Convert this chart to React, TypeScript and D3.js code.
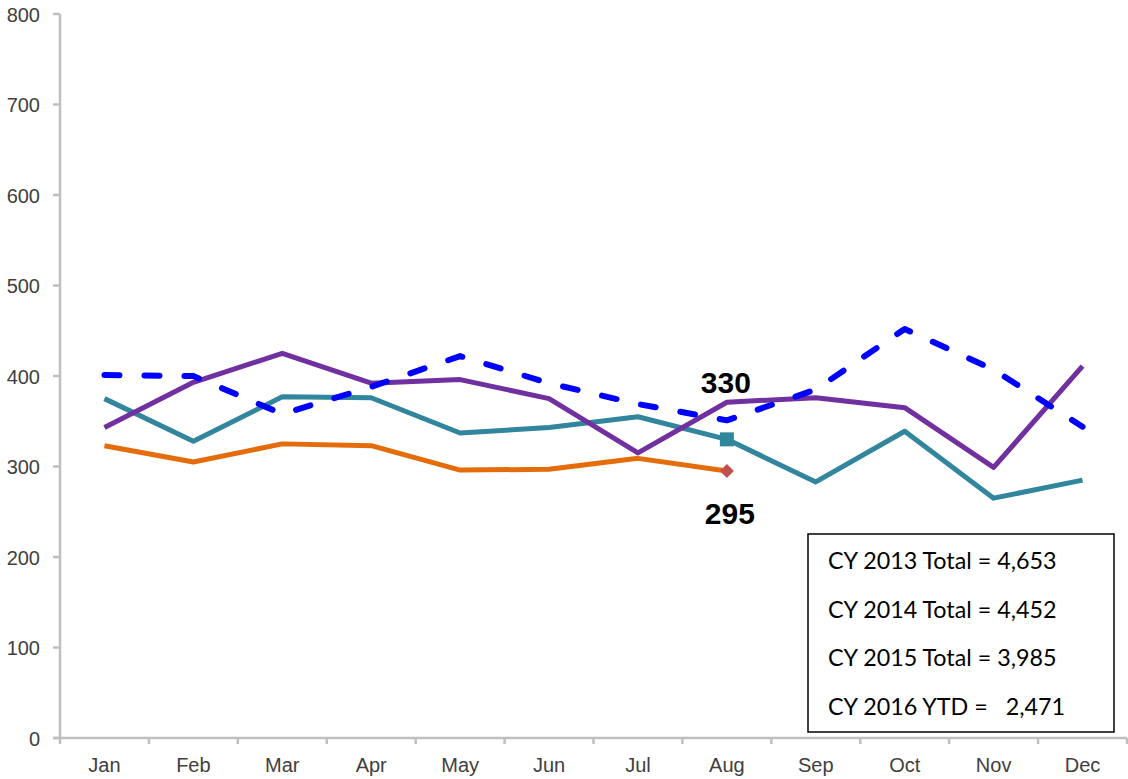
import React from "react";
import * as d3 from "d3";

const months = ["Jan", "Feb", "Mar", "Apr", "May", "Jun", "Jul", "Aug", "Sep", "Oct", "Nov", "Dec"];
const cy2013 = [401, 400, 358, 388, 422, 392, 369, 351, 385, 452, 407, 344];
const cy2014 = [343, 393, 425, 392, 396, 375, 315, 371, 376, 365, 299, 411];
const cy2015 = [375, 328, 377, 376, 337, 343, 355, 330, 283, 339, 265, 285];
const cy2016 = [323, 305, 325, 323, 296, 297, 309, 295];
const yTicks = [0, 100, 200, 300, 400, 500, 600, 700, 800];
const totals = [
  "CY 2013 Total = 4,653",
  "CY 2014 Total = 4,452",
  "CY 2015 Total = 3,985",
  "CY 2016 YTD =   2,471",
];

export default function App() {
  const W = 1128, H = 779;
  const left = 60, right = 1127, top = 14, bottom = 738;
  const x = d3.scaleBand<string>().domain(months).range([left, right]);
  const y = d3.scaleLinear().domain([0, 800]).range([bottom, top]);
  const cx = (i: number) => (x(months[i]) as number) + x.bandwidth() / 2;
  const line = d3.line<number>().x((_, i) => cx(i)).y((d) => y(d));
  const axisColor = "#BFBFBF";
  const labelFont = "'Liberation Sans', Arial, sans-serif";
  const tickBounds = months.map((m) => x(m) as number).concat([right]);
  const dx = cx(7), dy = y(cy2016[7]);

  return (
    <svg width={W} height={H} style={{ position: "absolute", left: 0, top: 0, background: "#fff" }}>
      {/* y axis */}
      <line x1={left} x2={left} y1={top} y2={bottom} stroke={axisColor} strokeWidth={2.5} />
      {yTicks.map((t) => (
        <g key={t}>
          <line x1={left - 7} x2={left} y1={y(t)} y2={y(t)} stroke={axisColor} strokeWidth={2.5} />
          <text x={40} y={y(t) + 7.5} textAnchor="end" fontFamily={labelFont} fontSize={20} fill="#404040">
            {t}
          </text>
        </g>
      ))}
      {/* x axis */}
      <line x1={left - 7} x2={right} y1={bottom} y2={bottom} stroke={axisColor} strokeWidth={2.5} />
      {tickBounds.map((b, i) => (
        <line key={i} x1={b} x2={b} y1={bottom} y2={bottom + 6} stroke={axisColor} strokeWidth={2.5} />
      ))}
      {months.map((m, i) => (
        <text key={m} x={cx(i)} y={772} textAnchor="middle" fontFamily={labelFont} fontSize={20} fill="#404040">
          {m}
        </text>
      ))}

      {/* series */}
      <path d={line(cy2016) || ""} fill="none" stroke="#E46C0A" strokeWidth={5} strokeLinejoin="round" />
      <path d={line(cy2015) || ""} fill="none" stroke="#31859C" strokeWidth={5} strokeLinejoin="round" />
      <path d={line(cy2014) || ""} fill="none" stroke="#7030A0" strokeWidth={5} strokeLinejoin="round" />
      <path
        d={line(cy2013) || ""}
        fill="none"
        stroke="#0000FF"
        strokeWidth={6}
        strokeDasharray="15 25"
        strokeLinecap="round"
        strokeLinejoin="round"
      />

      {/* markers */}
      <rect x={cx(7) - 7} y={y(cy2015[7]) - 7} width={14} height={14} fill="#31859C" />
      <path d={`M${dx},${dy - 7}L${dx + 7},${dy}L${dx},${dy + 7}L${dx - 7},${dy}Z`} fill="#C0504D" />
      <text x={cx(7) - 1} y={393} textAnchor="middle" fontFamily={labelFont} fontSize={30} fontWeight="bold" fill="#000">
        {cy2015[7]}
      </text>
      <text x={cx(7) + 3} y={524} textAnchor="middle" fontFamily={labelFont} fontSize={30} fontWeight="bold" fill="#000">
        {cy2016[7]}
      </text>

      {/* totals box */}
      <rect x={808} y={534} width={306} height={198} fill="#fff" stroke="#000" strokeWidth={1.5} />
      {totals.map((t, i) => (
        <text key={i} x={828} y={569 + i * 48.5} fontFamily="Lato, 'Open Sans', sans-serif" fontSize={23.3} fill="#000" style={{ whiteSpace: "pre" }}>
          {t}
        </text>
      ))}
    </svg>
  );
}
